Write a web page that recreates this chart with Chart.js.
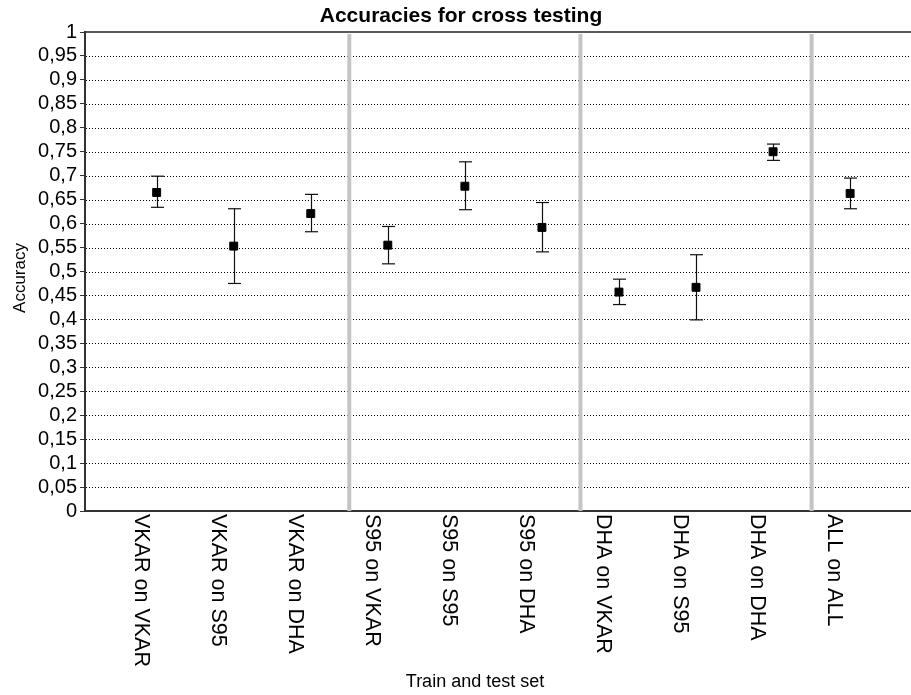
<!DOCTYPE html>
<html>
<head>
<meta charset="utf-8">
<script src="https://cdn.jsdelivr.net/npm/chart.js@4.4.1/dist/chart.umd.min.js"></script>
<style>
  html, body { margin: 0; padding: 0; background: #fff; }
  #wrap { width: 911px; height: 695px; }
</style>
</head>
<body>
<div id="wrap"><canvas id="c" width="911" height="695"></canvas></div>
<script>
const chartTitle = 'Accuracies for cross testing';
const xTitle = 'Train and test set';
const yTitle = 'Accuracy';
const categories = ['VKAR on VKAR', 'VKAR on S95', 'VKAR on DHA', 'S95 on VKAR', 'S95 on S95', 'S95 on DHA', 'DHA on VKAR', 'DHA on S95', 'DHA on DHA', 'ALL on ALL'];
const means = [0.665, 0.553, 0.621, 0.555, 0.678, 0.592, 0.457, 0.467, 0.750, 0.663];
const lower = [0.634, 0.475, 0.583, 0.516, 0.629, 0.541, 0.431, 0.399, 0.732, 0.631];
const upper = [0.699, 0.631, 0.661, 0.594, 0.729, 0.644, 0.484, 0.535, 0.766, 0.695];
const groupSizes = [3, 3, 3, 1];
const yMin = 0, yMax = 1, yStep = 0.05;

const FONT = "'Liberation Sans', Arial, sans-serif";
Chart.defaults.font.family = FONT;
Chart.defaults.color = '#000';

function line(ctx, x1, y1, x2, y2) {
  ctx.beginPath(); ctx.moveTo(x1, y1); ctx.lineTo(x2, y2); ctx.stroke();
}

const overlay = {
  id: 'overlay',
  beforeDatasetsDraw(chart) {
    const { ctx, chartArea: a, scales: { x, y } } = chart;
    ctx.save();
    // dotted grid
    ctx.strokeStyle = '#000';
    ctx.lineWidth = 1;
    ctx.setLineDash([1, 2]);
    y.ticks.forEach(t => {
      if (t.value <= yMin + 1e-9 || t.value >= yMax - 1e-9) return;
      const py = Math.round(y.getPixelForValue(t.value)) + 0.5;
      line(ctx, a.left + 1, py, a.right, py);
    });
    ctx.setLineDash([]);
    // group separators
    ctx.strokeStyle = '#c4c4c4';
    ctx.lineWidth = 4;
    let acc = 0;
    for (let g = 0; g < groupSizes.length - 1; g++) {
      acc += groupSizes[g];
      const px = x.getPixelForValue(acc - 0.5);
      line(ctx, px, a.top + 2, px, a.bottom);
    }
    // top border
    ctx.strokeStyle = '#222';
    ctx.lineWidth = 1.5;
    line(ctx, a.left, a.top, a.right, a.top);
    // error bars
    ctx.strokeStyle = '#111';
    ctx.lineWidth = 1.2;
    categories.forEach((c, i) => {
      const px = Math.round(x.getPixelForValue(i)) + 0.5;
      const pl = y.getPixelForValue(lower[i]);
      const pu = y.getPixelForValue(upper[i]);
      line(ctx, px, pu, px, pl);
      line(ctx, px - 6.5, pu, px + 6.5, pu);
      line(ctx, px - 6.5, pl, px + 6.5, pl);
    });
    ctx.restore();
  },
  afterDraw(chart) {
    const { ctx, chartArea: a, scales: { x } } = chart;
    ctx.save();
    ctx.fillStyle = '#000';
    // title
    ctx.font = 'bold 21px ' + FONT;
    ctx.textAlign = 'center';
    ctx.textBaseline = 'alphabetic';
    ctx.fillText(chartTitle, 461, 22);
    // x title
    ctx.font = '18px ' + FONT;
    ctx.fillText(xTitle, 475, 687);
    // y title
    ctx.save();
    ctx.font = '17px ' + FONT;
    ctx.translate(25, 278);
    ctx.rotate(-Math.PI / 2);
    ctx.textAlign = 'center';
    ctx.fillText(yTitle, 0, 0);
    ctx.restore();
    // category labels (rotated clockwise)
    ctx.font = '21.5px ' + FONT;
    ctx.textAlign = 'left';
    ctx.textBaseline = 'alphabetic';
    categories.forEach((c, i) => {
      const px = x.getPixelForValue(i);
      ctx.save();
      ctx.translate(px - 22, a.bottom + 3);
      ctx.rotate(Math.PI / 2);
      ctx.fillText(c, 0, 0);
      ctx.restore();
    });
    ctx.restore();
  }
};

new Chart(document.getElementById('c'), {
  type: 'scatter',
  data: {
    datasets: [{
      data: categories.map((c, i) => ({ x: i, y: means[i] })),
      pointStyle: 'rect',
      pointRadius: 5.6,
      backgroundColor: '#000',
      borderColor: '#000',
      borderWidth: 1,
      showLine: false
    }]
  },
  options: {
    responsive: false,
    animation: false,
    events: [],
    layout: { autoPadding: false, padding: { top: 32, right: 0, left: 0, bottom: 0 } },
    plugins: { legend: { display: false }, tooltip: { enabled: false }, title: { display: false } },
    scales: {
      x: {
        type: 'linear',
        min: -0.93,
        max: 9.79,
        ticks: { display: false },
        grid: { display: false },
        border: { display: true, color: '#333', width: 2 },
        afterFit(scale) { scale.height = 184; }
      },
      y: {
        type: 'linear',
        min: yMin,
        max: yMax,
        ticks: {
          stepSize: yStep,
          autoSkip: false,
          padding: 3,
          font: { size: 20 },
          color: '#000',
          callback: v => String(Number(v.toFixed(2))).replace('.', ',')
        },
        grid: { display: true, drawOnChartArea: false, drawTicks: true, tickLength: 5, color: '#333', lineWidth: 1 },
        border: { display: true, color: '#333', width: 2 },
        afterFit(scale) { scale.width = 85; }
      }
    }
  },
  plugins: [overlay]
});
</script>
</body>
</html>
